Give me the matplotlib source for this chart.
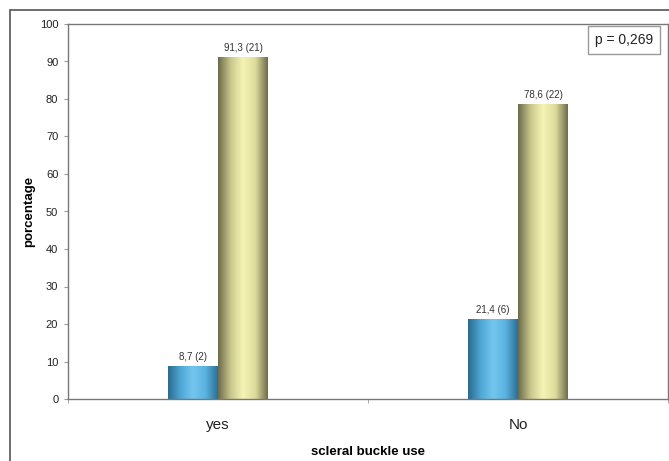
import numpy as np
import matplotlib
matplotlib.use("Agg")
import matplotlib.pyplot as plt
from matplotlib.patches import Rectangle
from matplotlib.colors import LinearSegmentedColormap

plt.rcParams['font.family'] = ['Liberation Sans', 'DejaVu Sans']

categories = ["yes", "No"]
series_a = [8.7, 21.4]
series_b = [91.3, 78.6]
counts_a = [2, 6]
counts_b = [21, 22]
y_ticks = [0, 10, 20, 30, 40, 50, 60, 70, 80, 90, 100]

fig = plt.figure(figsize=(6.69, 4.61), dpi=100)
ax = fig.add_axes([68 / 669, (461 - 399) / 461, 600 / 669, (399 - 24) / 461])

# outer frame
fig.patches.append(Rectangle((10 / 669, -0.05), 1.2, (461 - 10) / 461 + 0.05,
                             transform=fig.transFigure, fill=False,
                             edgecolor="#555555", linewidth=1.2))

blue_cmap = LinearSegmentedColormap.from_list(
    "blue_cyl", ["#2a6a8e", "#4ea6d4", "#74c6ef", "#5ab3e0", "#2c6f95"])
gold_cmap = LinearSegmentedColormap.from_list(
    "gold_cyl", ["#6b6a4a", "#c8c68a", "#f6f4b4", "#dedc9c", "#6e6c4c"])

width = 1 / 6
x = np.arange(len(categories))
grad = np.linspace(0, 1, 256).reshape(1, -1)


def shaded_bars(xs, heights, cmap):
    bars = ax.bar(xs, heights, width, color="none", edgecolor="none", zorder=2)
    for b in bars:
        x0, y0 = b.get_x(), b.get_y()
        w, h = b.get_width(), b.get_height()
        im = ax.imshow(grad, cmap=cmap, aspect="auto",
                       extent=[x0, x0 + w, y0, y0 + h], zorder=2,
                       interpolation="bicubic")
        im.set_clip_path(b)
    return bars


bars_a = shaded_bars(x - width / 2, series_a, blue_cmap)
bars_b = shaded_bars(x + width / 2, series_b, gold_cmap)

for xs, vals, cnts in ((x - width / 2, series_a, counts_a), (x + width / 2, series_b, counts_b)):
    for xi, v, c in zip(xs, vals, cnts):
        ax.text(xi, v + 1.1, f"{v:.1f}".replace(".", ",") + f" ({c})",
                ha="center", va="bottom", fontsize=7, color="#333333")

ax.set_xlim(-0.5, 1.5)
ax.set_ylim(0, 100)
ax.set_yticks(y_ticks)
ax.set_yticklabels([str(t) for t in y_ticks], fontsize=8, color="#222222")
ax.set_xticks(x)
ax.set_xticklabels(categories, fontsize=11, color="#222222")
ax.tick_params(axis="x", length=0, pad=14)
ax.set_xticks([-0.5, 0.5, 1.5], minor=True)
ax.tick_params(axis="x", which="minor", length=3, color="#999999")
ax.tick_params(axis="y", length=3, color="#999999", pad=4)

for s in ax.spines.values():
    s.set_color("#777777")
    s.set_linewidth(1.0)

ax.set_xlabel("scleral buckle use", fontsize=9.5, fontweight="bold", labelpad=10)
ax.set_ylabel("porcentage", fontsize=9.5, fontweight="bold", labelpad=3)

ax.text(0.975, 0.975, "p = 0,269", transform=ax.transAxes, ha="right", va="top",
        fontsize=10, color="#222222",
        bbox=dict(boxstyle="square,pad=0.5", facecolor="white",
                  edgecolor="#999999", linewidth=1.0))

fig.savefig("out.png", dpi=100)
